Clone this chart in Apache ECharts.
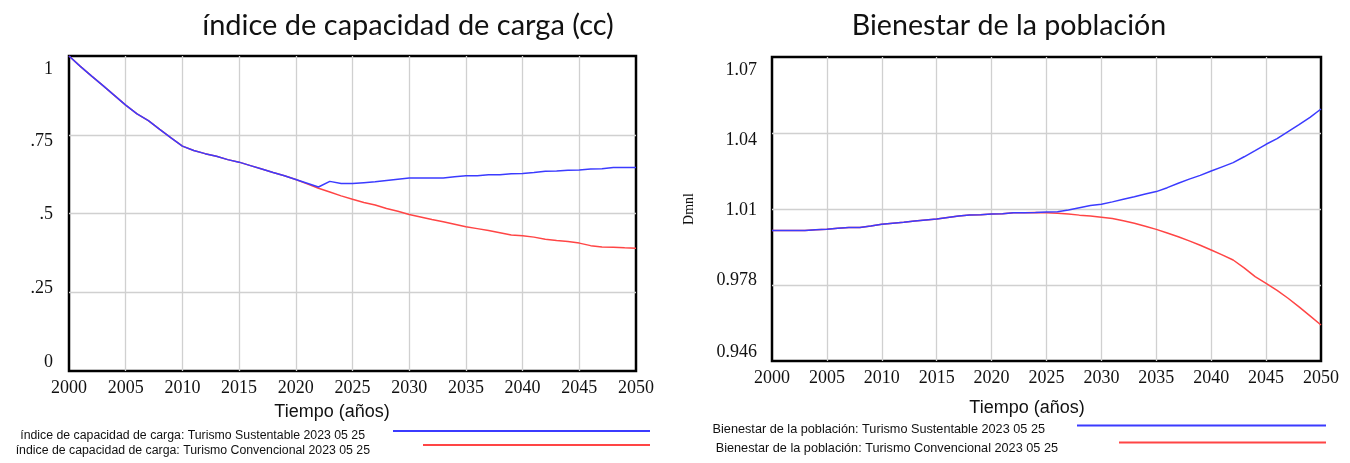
<!DOCTYPE html>
<html>
<head>
<meta charset="utf-8">
<script src="https://cdn.jsdelivr.net/npm/echarts@6/dist/echarts.min.js"></script>
<style>html,body{margin:0;padding:0;background:#fff;}#c{width:1350px;height:463px;}</style>
</head>
<body>
<div id="c"></div>
<script>
const years = [2000,2001,2002,2003,2004,2005,2006,2007,2008,2009,2010,2011,2012,2013,2014,2015,2016,2017,2018,2019,2020,2021,2022,2023,2024,2025,2026,2027,2028,2029,2030,2031,2032,2033,2034,2035,2036,2037,2038,2039,2040,2041,2042,2043,2044,2045,2046,2047,2048,2049,2050];

const ccSustentable = [1.000,0.967,0.936,0.906,0.875,0.844,0.816,0.795,0.767,0.740,0.714,0.700,0.690,0.682,0.671,0.663,0.652,0.641,0.630,0.620,0.608,0.596,0.584,0.602,0.595,0.595,0.598,0.601,0.605,0.609,0.613,0.613,0.613,0.613,0.617,0.620,0.620,0.623,0.623,0.626,0.627,0.630,0.634,0.635,0.637,0.638,0.641,0.642,0.646,0.646,0.646];
const ccConvencional = [1.000,0.967,0.936,0.906,0.875,0.844,0.816,0.795,0.767,0.740,0.714,0.700,0.690,0.682,0.671,0.663,0.652,0.641,0.630,0.620,0.608,0.594,0.580,0.568,0.556,0.545,0.535,0.527,0.516,0.507,0.497,0.489,0.481,0.474,0.466,0.458,0.452,0.446,0.439,0.432,0.429,0.425,0.418,0.414,0.411,0.406,0.398,0.394,0.393,0.391,0.390];

const bienSustentable = [0.9992,0.9992,0.9992,0.9992,0.9995,0.9997,1.0001,1.0005,1.0005,1.0011,1.0018,1.0022,1.0026,1.0031,1.0035,1.0039,1.0045,1.0051,1.0056,1.0057,1.0060,1.0061,1.0065,1.0065,1.0066,1.0068,1.0069,1.0076,1.0085,1.0094,1.0099,1.0109,1.0120,1.0130,1.0141,1.0151,1.0167,1.0185,1.0202,1.0217,1.0235,1.0252,1.0269,1.0293,1.0318,1.0344,1.0367,1.0396,1.0424,1.0454,1.0488];
const bienConvencional = [0.9992,0.9992,0.9992,0.9992,0.9995,0.9997,1.0001,1.0005,1.0005,1.0011,1.0018,1.0022,1.0026,1.0031,1.0035,1.0039,1.0045,1.0051,1.0056,1.0057,1.0060,1.0061,1.0065,1.0065,1.0066,1.0065,1.0063,1.0060,1.0055,1.0051,1.0046,1.0041,1.0032,1.0022,1.0010,0.9997,0.9982,0.9967,0.9950,0.9932,0.9913,0.9893,0.9872,0.9840,0.9804,0.9777,0.9748,0.9716,0.9681,0.9644,0.9607];

const leftYTickLabels = ['0','.25','.5','.75','1'];
const rightYTickLabels = ['0.946','0.978','1.01','1.04','1.07'];

const leftTitle = 'índice de capacidad de carga (cc)';
const rightTitle = 'Bienestar de la población';
const xAxisTitle = 'Tiempo (años)';
const rightYAxisTitle = 'Dmnl';
const nameCcS = 'índice de capacidad de carga: Turismo Sustentable 2023 05 25';
const nameCcC = 'índice de capacidad de carga: Turismo Convencional 2023 05 25';
const nameBS = 'Bienestar de la población: Turismo Sustentable 2023 05 25';
const nameBC = 'Bienestar de la población: Turismo Convencional 2023 05 25';

const pairs = (vals) => years.map((y, i) => [y, vals[i]]);

const BLUE = '#3b3bff';
const RED = '#ff4545';
const serif = "'Liberation Serif', 'DejaVu Serif', serif";
const sansT = "Lato, 'Noto Sans', sans-serif";
const sansA = "'Liberation Sans', Arial, sans-serif";

function richFor(shifts) {
  const r = {};
  shifts.forEach((d, i) => {
    r['s' + i] = {
      fontFamily: serif, fontSize: 18, color: '#111',
      padding: d >= 0 ? [2 * d, 0, 0, 0] : [0, 0, -2 * d, 0]
    };
  });
  return r;
}
function yLabelFormatter(min, interval, labels) {
  return (v) => {
    const i = Math.round((v - min) / interval);
    return '{s' + i + '|' + (labels[i] !== undefined ? labels[i] : '') + '}';
  };
}

const xAxisCommon = {
  type: 'value', min: 2000, max: 2050, interval: 5,
  axisLine: { show: false }, axisTick: { show: false },
  axisLabel: { fontFamily: serif, fontSize: 18, color: '#111', margin: 8, formatter: (v) => String(v) },
  splitLine: { show: true, showMinLine: false, showMaxLine: false, lineStyle: { color: '#d0d0d0', width: 1.3 } }
};

function legendFor(name, right, lineY, itemWidth, shift, padRight, fs) {
  const h = 16 + 2 * shift;
  return {
    data: [name], right: right, top: lineY - h / 2, padding: 0,
    icon: 'rect', itemWidth: itemWidth, itemHeight: 2, align: 'right',
    selectedMode: false,
    formatter: (n) => '{t|' + n + '}',
    textStyle: {
      fontFamily: sansA, fontSize: fs, color: '#111',
      rich: { t: { fontFamily: sansA, fontSize: fs, color: '#111', lineHeight: 16, padding: [2 * shift, padRight, 0, 0] } }
    }
  };
}

const option = {
  animation: false,
  backgroundColor: '#fff',
  title: [
    { text: leftTitle, left: 403, top: 3, textAlign: 'center', textStyle: { fontFamily: sansT, fontSize: 29, fontWeight: 'normal', color: '#111', lineHeight: 36 } },
    { text: rightTitle, left: 1004, top: 3, textAlign: 'center', textStyle: { fontFamily: sansT, fontSize: 28.6, fontWeight: 'normal', color: '#111', lineHeight: 36 } },
    { text: xAxisTitle, left: 327, top: 396, textAlign: 'center', textStyle: { fontFamily: sansA, fontSize: 18, fontWeight: 'normal', color: '#111', lineHeight: 22 } },
    { text: xAxisTitle, left: 1022, top: 392, textAlign: 'center', textStyle: { fontFamily: sansA, fontSize: 18, fontWeight: 'normal', color: '#111', lineHeight: 22 } }
  ],
  legend: [
    legendFor(nameCcS, 700, 433, 257, 5, 23, 12.3),
    legendFor(nameCcC, 700, 447, 227, 6, 48, 12.3),
    legendFor(nameBS, 24, 427, 249, 4, 27, 12.7),
    legendFor(nameBC, 24, 444, 207, 6, 56, 12.7)
  ],
  grid: [
    { left: 69, top: 56, width: 567, height: 315, show: true, borderColor: '#000', borderWidth: 2.5, backgroundColor: 'transparent' },
    { left: 772, top: 57, width: 549, height: 304, show: true, borderColor: '#000', borderWidth: 2.5, backgroundColor: 'transparent' }
  ],
  xAxis: [
    Object.assign({ gridIndex: 0 }, xAxisCommon),
    Object.assign({ gridIndex: 1 }, xAxisCommon)
  ],
  yAxis: [
    {
      gridIndex: 0, type: 'value', min: 0, max: 1, interval: 0.25,
      axisLine: { show: false }, axisTick: { show: false },
      axisLabel: { margin: 16, formatter: yLabelFormatter(0, 0.25, leftYTickLabels), rich: richFor([-9, -4, 1, 7, 13]) },
      splitLine: { show: true, showMinLine: false, showMaxLine: false, lineStyle: { color: '#d0d0d0', width: 1.3 } }
    },
    {
      gridIndex: 1, type: 'value', min: 0.946, max: 1.07, interval: 0.031,
      name: rightYAxisTitle, nameLocation: 'middle', nameRotate: 90, nameGap: 76,
      nameTextStyle: { fontFamily: serif, fontSize: 14, color: '#111' },
      axisLine: { show: false }, axisTick: { show: false },
      axisLabel: { margin: 15, formatter: yLabelFormatter(0.946, 0.031, rightYTickLabels), rich: richFor([-9, -5, 1, 7, 13]) },
      splitLine: { show: true, showMinLine: false, showMaxLine: false, lineStyle: { color: '#d0d0d0', width: 1.3 } }
    }
  ],
  series: [
    { name: nameCcC, type: 'line', xAxisIndex: 0, yAxisIndex: 0, data: pairs(ccConvencional), symbol: 'none', lineStyle: { color: RED, width: 1.5 }, itemStyle: { color: RED }, z: 2 },
    { name: nameCcS, type: 'line', xAxisIndex: 0, yAxisIndex: 0, data: pairs(ccSustentable), symbol: 'none', lineStyle: { color: BLUE, width: 1.5 }, itemStyle: { color: BLUE }, z: 3 },
    { name: nameBC, type: 'line', xAxisIndex: 1, yAxisIndex: 1, data: pairs(bienConvencional), symbol: 'none', lineStyle: { color: RED, width: 1.5 }, itemStyle: { color: RED }, z: 2 },
    { name: nameBS, type: 'line', xAxisIndex: 1, yAxisIndex: 1, data: pairs(bienSustentable), symbol: 'none', lineStyle: { color: BLUE, width: 1.5 }, itemStyle: { color: BLUE }, z: 3 }
  ]
};

const chart = echarts.init(document.getElementById('c'), null, { renderer: 'canvas' });
chart.setOption(option);
</script>
</body>
</html>
